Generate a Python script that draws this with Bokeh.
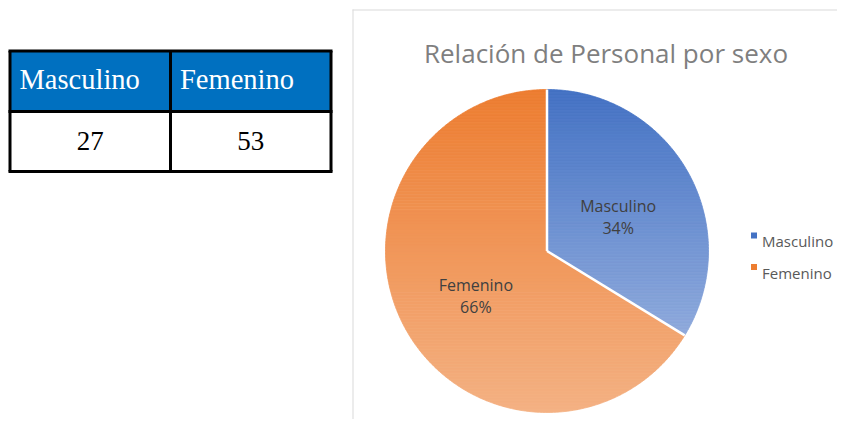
import math
from bokeh.plotting import figure
from bokeh.models import Range1d, ColumnDataSource
from bokeh.core.properties import value
from bokeh.embed import file_html
from bokeh.resources import INLINE

# ---------------- data ----------------
categories = ["Masculino", "Femenino"]
counts = [27, 53]
chart_title = "Relación de Personal por sexo"
top_colors = ["#4472C4", "#ED7D31"]
bottom_colors = ["#8FAADC", "#F4B183"]

# ---------------- figure (pixel-like coordinates, y downwards) ----------------
W, H = 837, 419
p = figure(width=W, height=H, x_range=Range1d(0, W), y_range=Range1d(H, 0),
           output_backend="svg", toolbar_location=None,
           x_axis_location=None, y_axis_location=None, min_border=0)
p.xgrid.visible = False
p.ygrid.visible = False
p.outline_line_color = None
p.background_fill_color = "white"
p.border_fill_color = "white"

SANS = value("Open Sans")
SERIF = value("Liberation Serif")

# ---------------- table ----------------
n = len(categories)
tbl_left, tbl_right = 9.5, 330.5
col_w = (tbl_right - tbl_left) / n
row_top, row_mid, row_bot = 50.5, 111.0, 171.0
lefts = [tbl_left + i * col_w for i in range(n)]
rights = [l + col_w for l in lefts]
p.quad(left=lefts, right=rights, top=[row_top] * n, bottom=[row_mid] * n,
       fill_color="#0070C0", line_color=None)
# borders
hx0 = [tbl_left - 1.5] * 3
hx1 = [tbl_right + 1.5] * 3
hy = [row_top, row_mid, row_bot]
p.segment(x0=hx0, y0=hy, x1=hx1, y1=hy, line_color="black", line_width=3)
vx = lefts + [tbl_right]
p.segment(x0=vx, y0=[row_top] * (n + 1), x1=vx, y1=[row_bot] * (n + 1),
          line_color="black", line_width=3)
p.text(x=[l + 9.5 for l in lefts], y=[row_top + 28.5] * n, text=categories,
       text_font=SERIF, text_font_size=value("28.5px"), text_color="white",
       text_align="left", text_baseline="alphabetic")
p.text(x=[(l + r) / 2 for l, r in zip(lefts, rights)], y=[row_mid + 29] * n,
       text=[str(c) for c in counts],
       text_font=SERIF, text_font_size=value("27px"), text_color="black",
       text_align="center", text_baseline="alphabetic")

# ---------------- chart area border ----------------
p.segment(x0=[352.5, 352], y0=[9, 9.5], x1=[352.5, W], y1=[H, 9.5],
          line_color="#D9D9D9", line_width=1)

# ---------------- title ----------------
p.text(x=[605.5], y=[52], text=[chart_title], text_font=SANS,
       text_font_size=value("26px"), text_color="#7F7F7F",
       text_align="center", text_baseline="alphabetic")

# ---------------- pie with vertical gradient ----------------
cx, cy, R = 546.5, 250.5, 161.5
total = sum(counts)
fracs = [c / total for c in counts]


def hex2rgb(h):
    h = h.lstrip("#")
    return tuple(int(h[i:i + 2], 16) for i in (0, 2, 4))


def lerp_color(c0, c1, t):
    a, b = hex2rgb(c0), hex2rgb(c1)
    return "#%02x%02x%02x" % tuple(int(round(a[i] + (b[i] - a[i]) * t)) for i in range(3))


def clip(pts, yb, keep_below):
    out = []
    m = len(pts)
    for k in range(m):
        cur, prev = pts[k], pts[k - 1]
        cin = (cur[1] >= yb) if keep_below else (cur[1] <= yb)
        pin = (prev[1] >= yb) if keep_below else (prev[1] <= yb)

        def inter():
            t = (yb - prev[1]) / (cur[1] - prev[1])
            return (prev[0] + t * (cur[0] - prev[0]), yb)
        if cin:
            if not pin:
                out.append(inter())
            out.append(cur)
        elif pin:
            out.append(inter())
    return out


band_xs, band_ys, band_cols = [], [], []
wedge_bounds = []
a = 90.0
for i, f in enumerate(fracs):
    span = 360.0 * f
    a0, a1 = a, a - span
    wedge_bounds.append((a0, a1))
    steps = max(8, int(span))
    poly = [(cx, cy)]
    for s in range(steps + 1):
        ang = math.radians(a0 - span * s / steps)
        poly.append((cx + R * math.cos(ang), cy - R * math.sin(ang)))
    ymin = min(pt[1] for pt in poly)
    ymax = max(pt[1] for pt in poly)
    nb = int((ymax - ymin) / 3) + 1
    for b in range(nb):
        y0 = ymin + (ymax - ymin) * b / nb
        y1 = ymin + (ymax - ymin) * (b + 1) / nb
        piece = clip(clip(poly, y0, True), y1, False)
        if len(piece) < 3:
            continue
        col = lerp_color(top_colors[i], bottom_colors[i], (b + 0.5) / nb)
        band_xs.append([pt[0] for pt in piece])
        band_ys.append([pt[1] for pt in piece])
        band_cols.append(col)
    a = a1

src = ColumnDataSource(dict(xs=band_xs, ys=band_ys, c=band_cols))
p.patches("xs", "ys", source=src, fill_color="c", line_color="c", line_width=0.8)

# white separators
sep_angles = [wb[0] for wb in wedge_bounds]
sx1 = [cx + R * math.cos(math.radians(t)) for t in sep_angles]
sy1 = [cy - R * math.sin(math.radians(t)) for t in sep_angles]
p.segment(x0=[cx] * len(sep_angles), y0=[cy] * len(sep_angles), x1=sx1, y1=sy1,
          line_color="white", line_width=2.5)

# data labels
lab_r = 0.505 * R
lx, ly, pct = [], [], []
for (a0, a1), f in zip(wedge_bounds, fracs):
    mid = math.radians((a0 + a1) / 2)
    lx.append(cx + lab_r * math.cos(mid))
    ly.append(cy - lab_r * math.sin(mid))
    pct.append("%d%%" % round(100 * f))
p.text(x=lx, y=[y - 5.5 for y in ly], text=categories, text_font=SANS,
       text_font_size=value("16px"), text_color="#404040",
       text_align="center", text_baseline="alphabetic")
p.text(x=lx, y=[y + 16.5 for y in ly], text=pct, text_font=SANS,
       text_font_size=value("16px"), text_color="#404040",
       text_align="center", text_baseline="alphabetic")

# legend
leg_y = [235 + 31.5 * i for i in range(n)]
p.scatter(x=[753.5] * n, y=leg_y, marker="square", size=6,
          fill_color=top_colors, line_color=None)
p.text(x=[761.5] * n, y=[y + 5.5 for y in leg_y], text=categories, text_font=SANS,
       text_font_size=value("15px"), text_color="#595959",
       text_align="left", text_baseline="alphabetic")

open("out.html", "w").write(file_html(p, INLINE))
